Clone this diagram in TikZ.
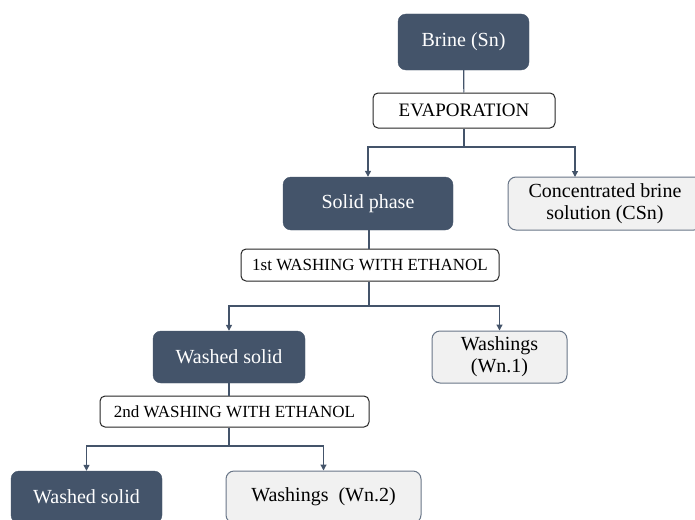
\documentclass[tikz,border=0pt]{standalone}
\usepackage{fontspec}
\setmainfont{Liberation Serif}
\usepackage{xcolor}
\usepackage{tikz}
\usetikzlibrary{arrows.meta}
\definecolor{slate}{HTML}{44546A}
\definecolor{pale}{HTML}{F1F1F1}

\begin{document}
\begin{tikzpicture}[x=1pt, y=-1pt,
  dark/.style={draw=slate, fill=slate, rounded corners=8pt, text=white, inner sep=0pt, font=\fontsize{20}{22}\selectfont},
  light/.style={draw=slate!80, fill=pale, rounded corners=8pt, line width=1pt, text=black, inner sep=0pt, align=center, font=\fontsize{20}{22}\selectfont},
  stage/.style={draw=black!85, fill=white, rounded corners=5pt, line width=1pt, inner sep=0pt},
  link/.style={draw=slate, line width=1.2pt},
  tip/.style={link, -{Triangle[width=6pt,length=6pt]}}]
\clip (0,0) rectangle (695,519);
\fill[white] (0,0) rectangle (695,519);
\node[dark, minimum width=131, minimum height=56] (Brine) at (463.5,42) {Brine (Sn)};
\node[stage, minimum width=182, minimum height=35, font=\fontsize{19}{20}\selectfont] (Evap) at (464,110.5) {EVAPORATION};
\node[dark, minimum width=170, minimum height=53] (Solid) at (368,203.5) {Solid phase};
\node[light, minimum width=194, minimum height=53] (Conc) at (605,203.5) {Concentrated brine\\solution (CSn)};
\node[stage, minimum width=258, minimum height=32, font=\fontsize{17}{18}\selectfont] (WashA) at (370,265) {1st WASHING WITH ETHANOL};
\node[dark, minimum width=152, minimum height=52] (SolidA) at (229,357) {Washed solid};
\node[light, minimum width=135, minimum height=52] (WnA) at (499.5,357) {Washings\\(Wn.1)};
\node[stage, minimum width=269, minimum height=31, font=\fontsize{17}{18}\selectfont] (WashB) at (234.5,411.5) {2nd WASHING WITH ETHANOL};
\node[dark, minimum width=151, minimum height=52] (SolidB) at (86.5,497) {Washed solid};
\node[light, minimum width=195, minimum height=52] (WnB) at (323.5,497) {Washings~~(Wn.2)};
% splits
\coordinate (SplitE) at (464,147);
\coordinate (SplitA) at (369,306);
\coordinate (SplitB) at (229,446);
\coordinate (ConcIn) at (575,177);
\draw[link] (Brine) -- (Evap);
\draw[link] (Evap) -- (SplitE);
\draw[tip] (SplitE) -| (Solid.north);
\draw[tip] (SplitE) -| (ConcIn);
\draw[link] (Solid.south -| SplitA) -- (WashA.north -| SplitA);
\draw[link] (WashA.south -| SplitA) -- (SplitA);
\draw[tip] (SplitA) -| (SolidA.north);
\draw[tip] (SplitA) -| (WnA.north);
\draw[link] (SolidA.south) -- (SolidA.south |- WashB.north);
\draw[link] (WashB.south -| SplitB) -- (SplitB);
\draw[tip] (SplitB) -| (SolidB.north);
\draw[tip] (SplitB) -| (WnB.north);
\end{tikzpicture}
\end{document}
